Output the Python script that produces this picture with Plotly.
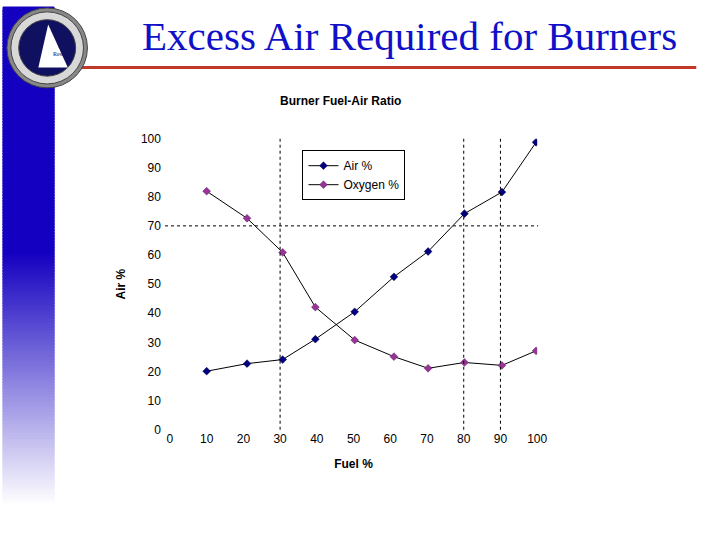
import plotly.graph_objects as go

fuel = [10, 21, 30.7, 39.6, 50.3, 61, 70.3, 80.2, 90.4, 99.7]
air = [20.1, 22.7, 24.1, 31.1, 40.5, 52.5, 61.2, 74.2, 81.6, 98.7]
oxygen = [81.9, 72.6, 60.9, 42.1, 30.8, 25.1, 21.1, 23.1, 22.1, 27.1]
vlines = [30, 80, 90]
hlines = [70]

W, H = 720, 540
fig = go.Figure()
fig.add_trace(go.Scatter(x=fuel, y=air, name="Air %", mode="lines+markers",
    line=dict(color="black", width=1),
    marker=dict(symbol="diamond", size=6, color="#000080", line=dict(color="#000040", width=0.5))))
fig.add_trace(go.Scatter(x=fuel, y=oxygen, name="Oxygen %", mode="lines+markers",
    line=dict(color="black", width=1),
    marker=dict(symbol="diamond", size=6, color="#993399", line=dict(color="#552255", width=0.5))))

shapes = []
def lerp(a, b, t): return int(a + (b - a) * t)
for i in range(0, 540, 3):
    if i < 250: c = (20, 0, 192)
    else:
        t = min(1, (i - 250) / 260)
        c = (lerp(20, 255, t), lerp(0, 255, t), lerp(192, 255, t))
    shapes.append(dict(type="rect", xref="paper", yref="paper", x0=0, x1=52 / W,
        y0=1 - (i + 5) / H, y1=1 - i / H, fillcolor="rgb(%d,%d,%d)" % c,
        line=dict(width=1, color="rgb(%d,%d,%d)" % c), layer="below"))
shapes.append(dict(type="line", xref="paper", yref="paper", x0=60 / W, x1=706 / W,
    y0=1 - 62 / H, y1=1 - 62 / H, line=dict(color="#c0392b", width=3)))
cx, cy = 45, 42
for r, col in [(41, "#888888"), (37, "#d8d8d8"), (29, "#101060")]:
    shapes.append(dict(type="circle", xref="paper", yref="paper",
        x0=(cx - r) / W, x1=(cx + r) / W, y0=1 - (cy + r) / H, y1=1 - (cy - r) / H,
        fillcolor=col, line=dict(color="#444444", width=1)))
shapes.append(dict(type="path", xref="paper", yref="paper",
    path="M %f %f L %f %f L %f %f Z" % (36 / W, 1 - 62 / H, 46 / W, 1 - 18 / H, 66 / W, 1 - 62 / H),
    fillcolor="white", line=dict(width=0)))
for v in vlines:
    shapes.append(dict(type="line", xref="x", yref="paper", x0=v, x1=v, y0=1 - 434 / H, y1=1 - 135 / H,
        line=dict(color="black", width=1, dash="dot")))
for h in hlines:
    shapes.append(dict(type="line", xref="paper", yref="y", x0=165 / W, x1=545 / W, y0=h, y1=h,
        line=dict(color="black", width=1, dash="dot")))

fig.update_layout(
    width=W, height=H, margin=dict(l=0, r=0, t=0, b=0),
    paper_bgcolor="white", plot_bgcolor="white", shapes=shapes,
    font=dict(family="Liberation Sans, Arial", size=12, color="black"),
    showlegend=True,
    legend=dict(x=305 / W, y=1 - 147 / H, xanchor="left", yanchor="top",
        bordercolor="black", borderwidth=1, bgcolor="white", font=dict(size=12),
        tracegroupgap=0, itemwidth=30),
    xaxis=dict(domain=[170 / W, 544 / W], range=[0, 100], tickvals=list(range(0, 101, 10)),
        showgrid=False, zeroline=False, showline=False, ticks="",
        title=dict(text="<b>Fuel %</b>", font=dict(size=12), standoff=14)),
    yaxis=dict(domain=[1 - 434 / H, 1 - 135 / H], range=[0, 100], tickvals=list(range(0, 101, 10)),
        showgrid=False, zeroline=False, showline=False, ticks="", ticklabelstandoff=8,
        title=dict(text="<b>Air %</b>", font=dict(size=12), standoff=12)),
    annotations=[
        dict(text="Excess Air Required for Burners", xref="paper", yref="paper", x=414 / W, y=1 - 30 / H,
            xanchor="center", yanchor="middle",
            showarrow=False, font=dict(family="Liberation Serif", size=41, color="#1010c8")),
        dict(text="<b>Burner Fuel-Air Ratio</b>", xref="paper", yref="paper", x=344 / W, y=1 - 97 / H,
            xanchor="center", yanchor="middle", showarrow=False, font=dict(size=12)),
        dict(text="for<br>Results", xref="paper", yref="paper", x=60 / W, y=1 - 44 / H,
            xanchor="center", yanchor="middle",
            showarrow=False, font=dict(family="Liberation Serif", size=6, color="#101060")),
    ],
)
fig.write_html("out.html", config={"displayModeBar": False},
    post_script="document.documentElement.style.margin='0';document.body.style.margin='0';"
                "document.body.style.padding='0';document.body.style.overflow='hidden';"
                "document.documentElement.style.overflow='hidden';")
